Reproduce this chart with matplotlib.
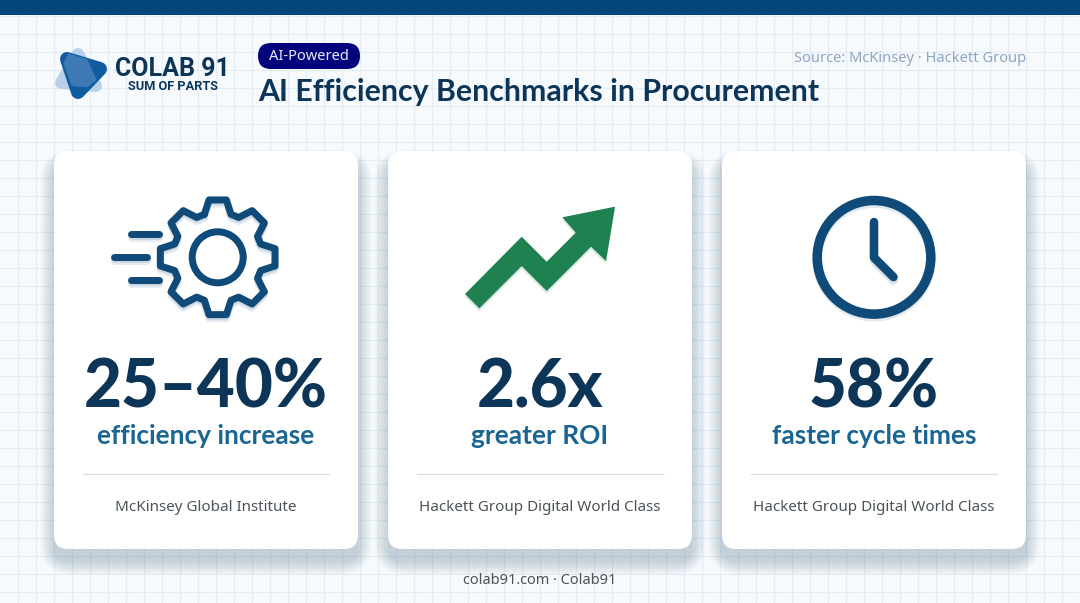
"""AI efficiency benchmarks infographic, three stat cards."""
import numpy as np
import matplotlib
matplotlib.use("Agg")
import matplotlib.pyplot as plt
import matplotlib.patheffects as pe
from matplotlib.patches import FancyBboxPatch, Polygon, Circle

# --- Data ---
STATS = ["25–40%", "2.6x", "58%"]
LABELS = ["efficiency increase", "greater ROI", "faster cycle times"]
SOURCES = ["McKinsey Global Institute", "Hackett Group Digital World Class",
           "Hackett Group Digital World Class"]
TITLE = "AI Efficiency Benchmarks in Procurement"
BADGE = "AI-Powered"
SOURCE_NOTE = "Source: McKinsey · Hackett Group"
FOOTER = "colab91.com · Colab91"

# --- Style ---
W, H = 1080, 603
NAVY = "#0c3557"
TEAL = "#1a6592"
ICON = "#0f4a78"
GREEN = "#1f8150"
GREY = "#4b5258"
PX = 0.72  # one pixel in points at dpi=100
FONT = "Noto Sans"
BOLD = "Lato"

SHADOW = [pe.SimpleLineShadow(offset=(0, -3), shadow_color="#0f4a78", alpha=0.10),
          pe.SimpleLineShadow(offset=(0, -1.5), shadow_color="#0f4a78", alpha=0.12),
          pe.Normal()]

fig = plt.figure(figsize=(W / 100, H / 100), dpi=100, facecolor="#f7fafd")
ax = fig.add_axes([0, 0, 1, 1])
ax.set_xlim(0, W)
ax.set_ylim(H, 0)
ax.axis("off")


def label(x, y, s, px, color, weight="normal", ha="center", family=FONT, **kw):
    ax.text(x, y, s, fontsize=px * PX, color=color, fontweight=weight, ha=ha,
            va="center", family=family, **kw)


def stroke(xs, ys, px, color=ICON, z=5):
    ax.plot(xs, ys, color=color, lw=px * PX, solid_capstyle="round",
            solid_joinstyle="round", zorder=z, path_effects=SHADOW)


# === Background grid and top bar ===
for x in np.arange(17.5, W, 18):
    ax.plot([x, x], [0, H], color="#e6ecf3", lw=0.9, zorder=0)
for y in np.arange(16, H, 18):
    ax.plot([0, W], [y, y], color="#e6ecf3", lw=0.9, zorder=0)
ax.fill_between([0, W], 0, 15, color="#03467a", lw=0, zorder=1)

# === Logo ===
ax.add_patch(Polygon([(78, 54), (61, 83), (96, 86)], closed=True, fc="#b9d1e8", ec="#b9d1e8",
                     lw=12 * PX, joinstyle="round", zorder=2))
ax.add_patch(Polygon([(67, 59), (100, 69), (78, 92)], closed=True, fc="#0f5d9f", ec="#0f5d9f",
                     lw=14 * PX, joinstyle="round", zorder=3))
ax.add_patch(Polygon([(68.3, 53.3), (87.3, 59.3), (96.7, 80), (87.3, 87.3), (71.7, 86), (63.3, 63.3)],
                     closed=True, fc="#3f79b5", ec="none", zorder=4))
label(115, 68.5, "COLAB 91", 25, NAVY, "bold", ha="left", family="Roboto")
label(173, 87, "SUM OF PARTS", 12.7, NAVY, "bold", family="Roboto")

# === Header ===
ax.add_patch(FancyBboxPatch((258, 43), 102, 26, boxstyle="round,pad=0,rounding_size=13",
                            fc="#03037c", ec="none", zorder=3))
label(309, 57, BADGE, 14.7, "#e6e9f8", zorder=4)
label(258, 92.5, TITLE, 30.2, NAVY, "bold", ha="left", family=BOLD)
label(1026, 58.5, SOURCE_NOTE, 14.7, "#8ea6bf", ha="right")

# === Cards ===
centers = [206, 540, 874]
for cx, stat, lab, src in zip(centers, STATS, LABELS, SOURCES):
    x0, y0, w, h = cx - 152, 151, 304, 398
    for pad in np.linspace(20, 0, 14):
        ax.add_patch(FancyBboxPatch((x0 - pad * 0.7, y0 + 12 - pad * 0.7), w + pad * 1.4, h + pad * 1.4,
                                    boxstyle=f"round,pad=0,rounding_size={14 + pad}",
                                    fc="#3d5f80", ec="none", alpha=0.018, zorder=2))
    ax.add_patch(FancyBboxPatch((x0, y0), w, h, boxstyle="round,pad=0,rounding_size=14",
                                fc="white", ec="none", zorder=3))
    label(cx, 388, stat, 65.5, NAVY, "black", zorder=5, family=BOLD)
    label(cx, 436, lab, 26.3, TEAL, "bold", zorder=5, family=BOLD)
    ax.plot([cx - 123, cx + 123], [474, 474], color="#d9dde1", lw=0.9, zorder=5)
    label(cx, 507.5, src, 15.2, GREY, zorder=5)

# === Gear icon ===
gx, gy = 217.7, 257.3
n_teeth = 8
ang, rad = [], []
for i in range(n_teeth):
    a = -np.pi / 2 + i * 2 * np.pi / n_teeth
    ang += [a - 0.30, a - 0.15, a + 0.15, a + 0.30]
    rad += [45, 58, 58, 45]
ang, rad = np.array(ang + ang[:1]), np.array(rad + rad[:1])
stroke(gx + rad * np.cos(ang), gy + rad * np.sin(ang), 7)
ax.add_patch(Circle((gx, gy), 25.5, fc="none", ec=ICON, lw=7 * PX, zorder=5))
stroke([131, 159], [234.3, 234.3], 7)
stroke([114, 147], [257.3, 257.3], 7)
stroke([131, 159], [280, 280], 7)

# === Growth arrow ===
arrow_pts = [(465, 294), (521.7, 236.7), (546.7, 261.7), (575.7, 232.7), (562.3, 217.3),
             (615, 206.7), (606, 261), (591, 246.7), (546.7, 291), (521.7, 266), (479.3, 308.3)]
ax.add_patch(Polygon(arrow_pts, closed=True, fc=GREEN, ec="none", zorder=5,
                     path_effects=[pe.SimplePatchShadow(offset=(0, -2), shadow_rgbFace=GREEN, alpha=0.18),
                                   pe.Normal()]))

# === Clock icon ===
ax.add_patch(Circle((874, 260), 56.8, fc="none", ec="#0f4a78", alpha=0.12, lw=9.5 * PX, zorder=4))
ax.add_patch(Circle((874, 257.3), 56.8, fc="none", ec=ICON, lw=9.5 * PX, zorder=5))
stroke([874, 874, 893.5], [222, 257.5, 277], 8.5)

fig.text(540 / W, 1 - 580 / H, FOOTER, fontsize=14.6 * PX, color=GREY, ha="center", va="center", family=FONT)

fig.savefig("out.png", dpi=100, facecolor=fig.get_facecolor())
